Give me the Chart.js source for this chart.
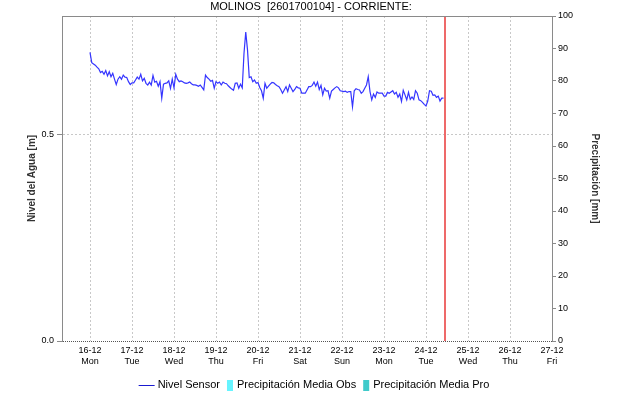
<!DOCTYPE html>
<html>
<head>
<meta charset="utf-8">
<title>MOLINOS [2601700104] - CORRIENTE</title>
<script src="https://cdn.jsdelivr.net/npm/chart.js"></script>
<style>
  html, body { margin: 0; padding: 0; background: #fff; }
</style>
</head>
<body>
<canvas id="nivel" width="618" height="404"></canvas>
<script>
// eje x en horas desde 16-12 00:00
const dayLabels = ['16-12', '17-12', '18-12', '19-12', '20-12', '21-12', '22-12', '23-12', '24-12', '25-12', '26-12', '27-12'];
const weekDays = ['Mon', 'Tue', 'Wed', 'Thu', 'Fri', 'Sat', 'Sun', 'Mon', 'Tue', 'Wed', 'Thu', 'Fri'];

// nivel horario [m], una fila por dia
const nivelSensor = [
  0.699, 0.674, 0.671, 0.668, 0.663, 0.659, 0.650, 0.653, 0.646, 0.655, 0.642, 0.652, 0.640, 0.648, 0.634, 0.621, 0.634, 0.640, 0.634, 0.644, 0.639, 0.638, 0.628, 0.621,
  0.625, 0.625, 0.632, 0.639, 0.634, 0.646, 0.630, 0.636, 0.624, 0.620, 0.627, 0.620, 0.643, 0.627, 0.629, 0.617, 0.628, 0.588, 0.622, 0.624, 0.625, 0.630, 0.612, 0.634,
  0.613, 0.646, 0.634, 0.628, 0.630, 0.628, 0.625, 0.624, 0.625, 0.627, 0.623, 0.620, 0.620, 0.619, 0.617, 0.620, 0.614, 0.608, 0.644, 0.638, 0.634, 0.629, 0.631, 0.612,
  0.628, 0.624, 0.627, 0.620, 0.627, 0.624, 0.623, 0.618, 0.614, 0.610, 0.607, 0.624, 0.625, 0.612, 0.622, 0.613, 0.697, 0.748, 0.705, 0.638, 0.640, 0.628, 0.632, 0.624,
  0.626, 0.614, 0.606, 0.588, 0.624, 0.612, 0.617, 0.622, 0.626, 0.625, 0.621, 0.618, 0.616, 0.609, 0.600, 0.608, 0.616, 0.604, 0.620, 0.612, 0.604, 0.609, 0.616, 0.613,
  0.612, 0.600, 0.600, 0.600, 0.608, 0.616, 0.616, 0.619, 0.627, 0.617, 0.627, 0.609, 0.619, 0.596, 0.612, 0.605, 0.606, 0.588, 0.605, 0.609, 0.613, 0.616, 0.613, 0.606,
  0.605, 0.604, 0.605, 0.602, 0.604, 0.604, 0.567, 0.606, 0.611, 0.609, 0.608, 0.600, 0.604, 0.612, 0.620, 0.640, 0.604, 0.584, 0.598, 0.590, 0.603, 0.600, 0.600, 0.600,
  0.593, 0.593, 0.602, 0.600, 0.603, 0.606, 0.598, 0.602, 0.590, 0.598, 0.580, 0.607, 0.596, 0.584, 0.602, 0.585, 0.591, 0.585, 0.606, 0.600, 0.584, 0.582, 0.578, 0.573,
  0.569, 0.581, 0.606, 0.605, 0.595, 0.596, 0.590, 0.593, 0.581, 0.588, 0.588
];

// sin precipitacion registrada en el periodo
const precipObs = [];
const precipPro = [];

const horaActual = 203; // 24-12 11:00

const FONT = "'Liberation Sans', Arial, sans-serif";
Chart.defaults.font.family = FONT;
Chart.defaults.color = '#000';

// linea roja de hora actual, borde superior, titulo y leyenda
const extras = {
  id: 'extras',
  afterDatasetsDraw(chart) {
    const { ctx, chartArea: a, scales: { x } } = chart;
    const xNow = Math.round(x.getPixelForValue(horaActual));
    ctx.save();
    ctx.setLineDash([]);
    ctx.fillStyle = 'rgb(238, 105, 105)';
    ctx.fillRect(xNow - 1, a.top, 2, a.bottom - a.top);
    ctx.strokeStyle = '#8a8a8a';
    ctx.lineWidth = 1;
    ctx.beginPath();
    ctx.moveTo(a.left, a.top + 0.5);
    ctx.lineTo(a.right, a.top + 0.5);
    ctx.stroke();
    ctx.restore();
  },
  afterDraw(chart) {
    const { ctx } = chart;
    ctx.save();
    ctx.fillStyle = '#000';
    ctx.font = '11px ' + FONT;
    ctx.textAlign = 'center';
    ctx.textBaseline = 'alphabetic';
    ctx.fillText('MOLINOS  [2601700104] - CORRIENTE:', 311, 10);

    // leyenda
    const items = chart.data.datasets.map(ds => ({
      text: ds.label,
      color: ds.borderColor,
      fill: ds.backgroundColor,
      line: ds.type === 'line'
    }));
    ctx.textAlign = 'left';
    ctx.textBaseline = 'middle';
    const gap = 7;
    const widths = items.map(it => (it.line ? 19 : 10) + ctx.measureText(it.text).width);
    const total = widths.reduce((s, w) => s + w, 0) + gap * (items.length - 1);
    let xPos = 314 - total / 2;
    const yMid = 385;
    items.forEach((it, i) => {
      if (it.line) {
        ctx.strokeStyle = '#1a1ad0';
        ctx.lineWidth = 1;
        ctx.beginPath();
        ctx.moveTo(xPos, yMid + 0.5);
        ctx.lineTo(xPos + 16, yMid + 0.5);
        ctx.stroke();
        ctx.fillStyle = '#000';
        ctx.fillText(it.text, xPos + 19, yMid);
      } else {
        ctx.fillStyle = it.fill;
        ctx.fillRect(xPos, yMid - 5, 6, 11);
        ctx.fillStyle = '#000';
        ctx.fillText(it.text, xPos + 10, yMid);
      }
      xPos += widths[i] + gap;
    });
    ctx.restore();
  }
};

new Chart(document.getElementById('nivel'), {
  data: {
    datasets: [
      {
        type: 'line',
        label: 'Nivel Sensor',
        data: nivelSensor.map((v, i) => ({ x: i, y: v })),
        borderColor: '#3535ff',
        borderWidth: 1.2,
        pointRadius: 0,
        tension: 0,
        yAxisID: 'y'
      },
      {
        type: 'bar',
        label: 'Precipitación Media Obs',
        data: precipObs,
        backgroundColor: '#66f4ff',
        yAxisID: 'y2'
      },
      {
        type: 'bar',
        label: 'Precipitación Media Pro',
        data: precipPro,
        backgroundColor: '#3fcaca',
        yAxisID: 'y2'
      }
    ]
  },
  options: {
    responsive: false,
    animation: false,
    devicePixelRatio: 1,
    layout: { padding: { top: 16, left: 0, right: 0, bottom: 0 } },
    plugins: {
      legend: { display: false },
      tooltip: { enabled: false }
    },
    scales: {
      x: {
        type: 'linear',
        min: -16,
        max: 264,
        offset: false,
        afterBuildTicks: scale => {
          scale.ticks = dayLabels.map((d, i) => ({ value: i * 24 }));
        },
        afterFit: scale => { scale.height = 63; },
        ticks: {
          autoSkip: false,
          maxRotation: 0,
          padding: 4,
          font: { size: 9 },
          callback: (value, index) => [dayLabels[index], weekDays[index]]
        },
        grid: { color: '#c8c8c8', drawTicks: false, offset: false },
        border: { display: false, dash: [2, 2] }
      },
      y: {
        position: 'left',
        min: 0,
        max: 0.787,
        afterFit: scale => { scale.width = 62; },
        ticks: {
          stepSize: 0.5,
          includeBounds: false,
          padding: 3,
          font: { size: 9 },
          callback: v => v.toFixed(1)
        },
        title: {
          display: true,
          text: 'Nivel del Agua [m]',
          color: '#333',
          font: { size: 10, weight: 'bold' },
          padding: { top: 26, bottom: 0 }
        },
        grid: {
          color: ctx => (ctx.tick && ctx.tick.value === 0 ? '#555' : '#c8c8c8'),
          tickColor: '#8a8a8a',
          tickLength: 5
        },
        border: {
          color: '#8a8a8a',
          dash: ctx => (ctx.tick && ctx.tick.value === 0 ? [1, 1] : [2, 2])
        }
      },
      y2: {
        position: 'right',
        min: 0,
        max: 100,
        afterFit: scale => { scale.width = 66; },
        ticks: { stepSize: 10, padding: 2, font: { size: 9 } },
        title: {
          display: true,
          text: 'Precipitación [mm]',
          color: '#333',
          font: { size: 10, weight: 'bold' },
          padding: { top: 17, bottom: 0 }
        },
        grid: { drawOnChartArea: false, tickColor: '#8a8a8a', tickLength: 4 },
        border: { color: '#8a8a8a' }
      }
    }
  },
  plugins: [extras]
});
</script>
</body>
</html>
